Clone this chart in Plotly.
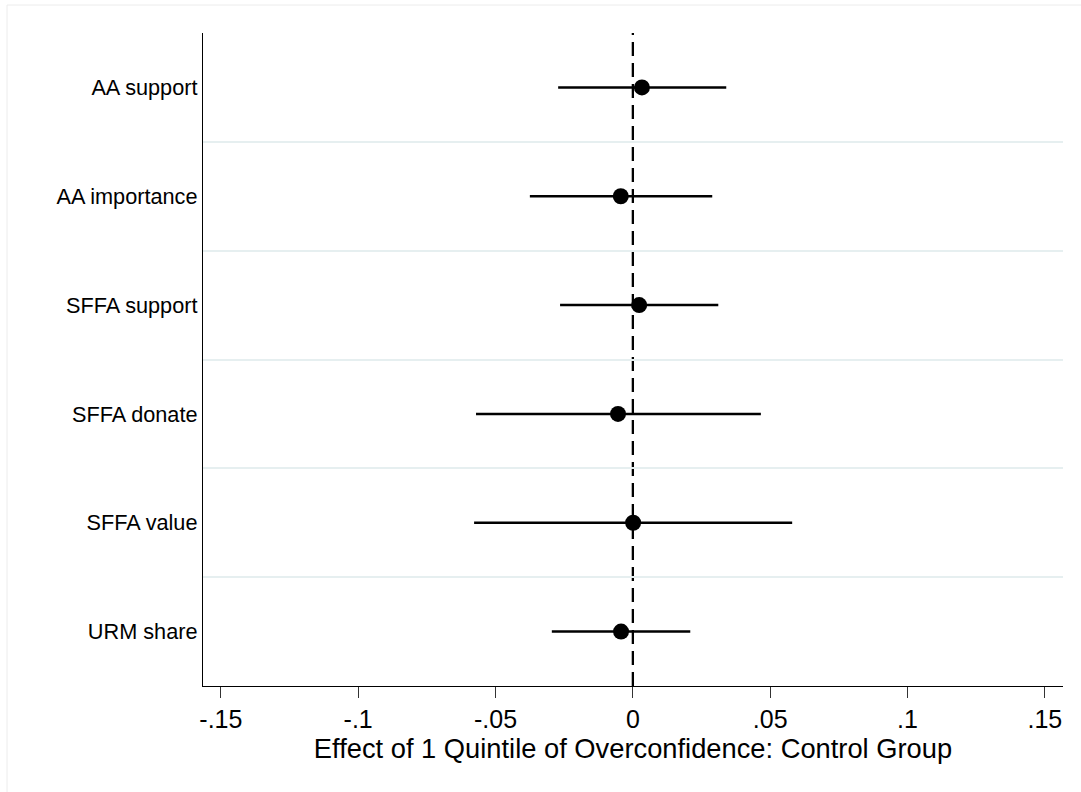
import plotly.graph_objects as go

# Outcomes, listed top to bottom
outcomes = ["AA support", "AA importance", "SFFA support", "SFFA donate", "SFFA value", "URM share"]
# Point estimates and 95% confidence bounds
estimate = [0.0033, -0.0044, 0.0023, -0.0054, 0.0001, -0.0043]
ci_low = [-0.0272, -0.0375, -0.0265, -0.0571, -0.0578, -0.0295]
ci_high = [0.0340, 0.0289, 0.0311, 0.0466, 0.0580, 0.0209]

x_ticks = [-0.15, -0.10, -0.05, 0.0, 0.05, 0.10, 0.15]
x_tick_text = ["-.15", "-.1", "-.05", "0", ".05", ".1", ".15"]

n = len(outcomes)
ypos = [n - i for i in range(n)]
err_plus = [h - e for h, e in zip(ci_high, estimate)]
err_minus = [e - l for e, l in zip(estimate, ci_low)]

W, H = 1081, 792
ML, MR, MT, MB = 203, 18, 33, 106
PW, PH = W - ML - MR, H - MT - MB

fig = go.Figure()

fig.add_trace(go.Scatter(
    x=estimate, y=ypos, mode="markers",
    marker=dict(color="black", size=16, line=dict(width=0)),
    error_x=dict(type="data", symmetric=False, array=err_plus, arrayminus=err_minus,
                 color="black", thickness=2.5, width=0),
    showlegend=False, hoverinfo="skip",
))

# Reference line at zero effect
fig.add_shape(type="line", xref="x", yref="paper", x0=0, x1=0, y0=0, y1=1,
              line=dict(color="black", width=2.3, dash="14px,7px"), layer="below")

# Thin frame around the graphic (top and left edges fall inside the canvas)
fig.add_shape(type="rect", xref="paper", yref="paper",
              x0=(7 - ML) / PW, x1=(1090 - ML) / PW,
              y0=(H - MB - 800) / PH, y1=(H - MB - 5) / PH,
              line=dict(color="#ececec", width=1), fillcolor="rgba(0,0,0,0)")

fig.update_layout(
    width=W, height=H,
    margin=dict(l=ML, r=MR, t=MT, b=MB),
    paper_bgcolor="white", plot_bgcolor="white",
    font=dict(family="Liberation Sans, Arial, Helvetica, sans-serif", color="black"),
    xaxis=dict(
        range=[-0.1565, 0.1566],
        tickvals=x_ticks, ticktext=x_tick_text,
        tickfont=dict(size=25, color="black"),
        ticks="outside", ticklen=11, tickwidth=1.3, tickcolor="#333333",
        showline=True, linecolor="black", linewidth=1.3,
        showgrid=False, zeroline=False,
        title=dict(text="Effect of 1 Quintile of Overconfidence: Control Group",
                   font=dict(size=27.3, color="black"), standoff=2),
    ),
    yaxis=dict(
        range=[0.5, n + 0.5],
        tickvals=ypos, ticktext=outcomes,
        tickfont=dict(size=21.7, color="black"),
        ticks="", ticklabelstandoff=0,
        showline=True, linecolor="black", linewidth=1.3,
        showgrid=False, zeroline=False,
        minor=dict(tickvals=[p + 0.5 for p in ypos[1:]], showgrid=True,
                   gridcolor="#e6eff0", gridwidth=1.6, ticks=""),
    ),
)

fig.write_html("out.html")
